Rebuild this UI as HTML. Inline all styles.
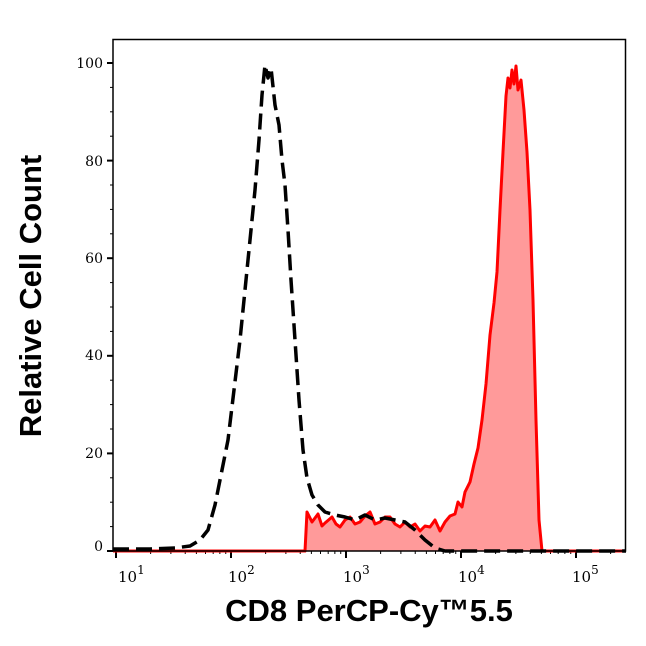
<!DOCTYPE html>
<html><head><style>body{margin:0;background:#fff}</style></head><body>
<svg width="646" height="641" xmlns="http://www.w3.org/2000/svg">
<rect width="646" height="641" fill="#fff"/>
<g id="ticks" stroke="#000"></g>
<polygon fill="#ff9a9a" stroke="none" points="113,551 305,551 307,512 312,522 318,514 322,526 325,523 332,517 336,524 340,527 345,520 350,517 355,524 360,522 365,516 370,512 375,524 380,522 385,517 390,517 395,524 400,527 405,522 410,527 415,524 420,531 425,526 430,527 435,520 440,531 445,522 450,516 455,514 458,502 462,507 465,492 470,482 474,464 478,448 482,420 486,384 490,335 494,303 497,272 500,210 503,152 506,96 508,78 510,88 512,70 514,84 516,66 518,90 521,80 524,110 527,152 530,210 533,300 536,420 539,520 542,551 626,551"/>
<polyline fill="none" stroke="#ff0000" stroke-width="3" stroke-linejoin="round" points="113,551 305,551 307,512 312,522 318,514 322,526 325,523 332,517 336,524 340,527 345,520 350,517 355,524 360,522 365,516 370,512 375,524 380,522 385,517 390,517 395,524 400,527 405,522 410,527 415,524 420,531 425,526 430,527 435,520 440,531 445,522 450,516 455,514 458,502 462,507 465,492 470,482 474,464 478,448 482,420 486,384 490,335 494,303 497,272 500,210 503,152 506,96 508,78 510,88 512,70 514,84 516,66 518,90 521,80 524,110 527,152 530,210 533,300 536,420 539,520 542,551 626,551"/>
<polyline fill="none" stroke="#000" stroke-width="3.5" stroke-dasharray="16,7" stroke-linejoin="round" points="113,549 150,549 175,548 190,546 200,540 208,530 215,505 222,470 228,440 234,390 240,340 245,290 250,240 255,190 259,140 262,95 265,65 268,78 271,68 275,105 279,125 282,160 285,185 288,230 291,280 295,340 299,400 303,450 307,478 312,495 318,505 325,512 335,515 345,517 355,520 365,515 375,520 385,518 395,520 405,522 415,530 425,540 435,548 445,551 626,551"/>
<rect x="113" y="39.5" width="512.5" height="511.5" fill="none" stroke="#000" stroke-width="1.5"/>
<g font-family="'DejaVu Serif','Liberation Serif',serif" font-size="14" text-anchor="end" fill="#000">
<text x="103" y="68">100</text><text x="103" y="166">80</text><text x="103" y="263">60</text><text x="103" y="360">40</text><text x="103" y="458">20</text><text x="103" y="551">0</text>
</g>
<g font-family="'DejaVu Serif','Liberation Serif',serif" font-size="15" fill="#000">
<text x="118" y="582">10<tspan font-size="12" dy="-8">1</tspan></text>
<text x="228" y="582">10<tspan font-size="12" dy="-8">2</tspan></text>
<text x="343" y="582">10<tspan font-size="12" dy="-8">3</tspan></text>
<text x="458" y="582">10<tspan font-size="12" dy="-8">4</tspan></text>
<text x="572" y="582">10<tspan font-size="12" dy="-8">5</tspan></text>
</g>
<text x="369" y="621" font-family="'Liberation Sans',sans-serif" font-weight="bold" font-size="31" text-anchor="middle">CD8 PerCP-Cy™5.5</text>
<text transform="translate(41,296) rotate(-90)" font-family="'Liberation Sans',sans-serif" font-weight="bold" font-size="31" text-anchor="middle">Relative Cell Count</text>
</svg>
<script>
var g=document.getElementById('ticks'),s='';
for(var v=0;v<=100;v+=5){var y=551-4.88*v,L=(v%20==0)?6:3;s+='<line x1="'+(113-L)+'" x2="113" y1="'+y+'" y2="'+y+'" stroke-width="'+(v%20==0?2:1)+'"/>';}
for(var d=0;d<=5;d++)for(var m=1;m<10;m++){var x=116+(d+Math.log10(m))*115;if(x<113||x>626)continue;var L=m==1?7:3;s+='<line x1="'+x+'" x2="'+x+'" y1="551" y2="'+(551+L)+'" stroke-width="'+(m==1?2:1)+'"/>';}
g.innerHTML=s;
</script>
</body></html>
